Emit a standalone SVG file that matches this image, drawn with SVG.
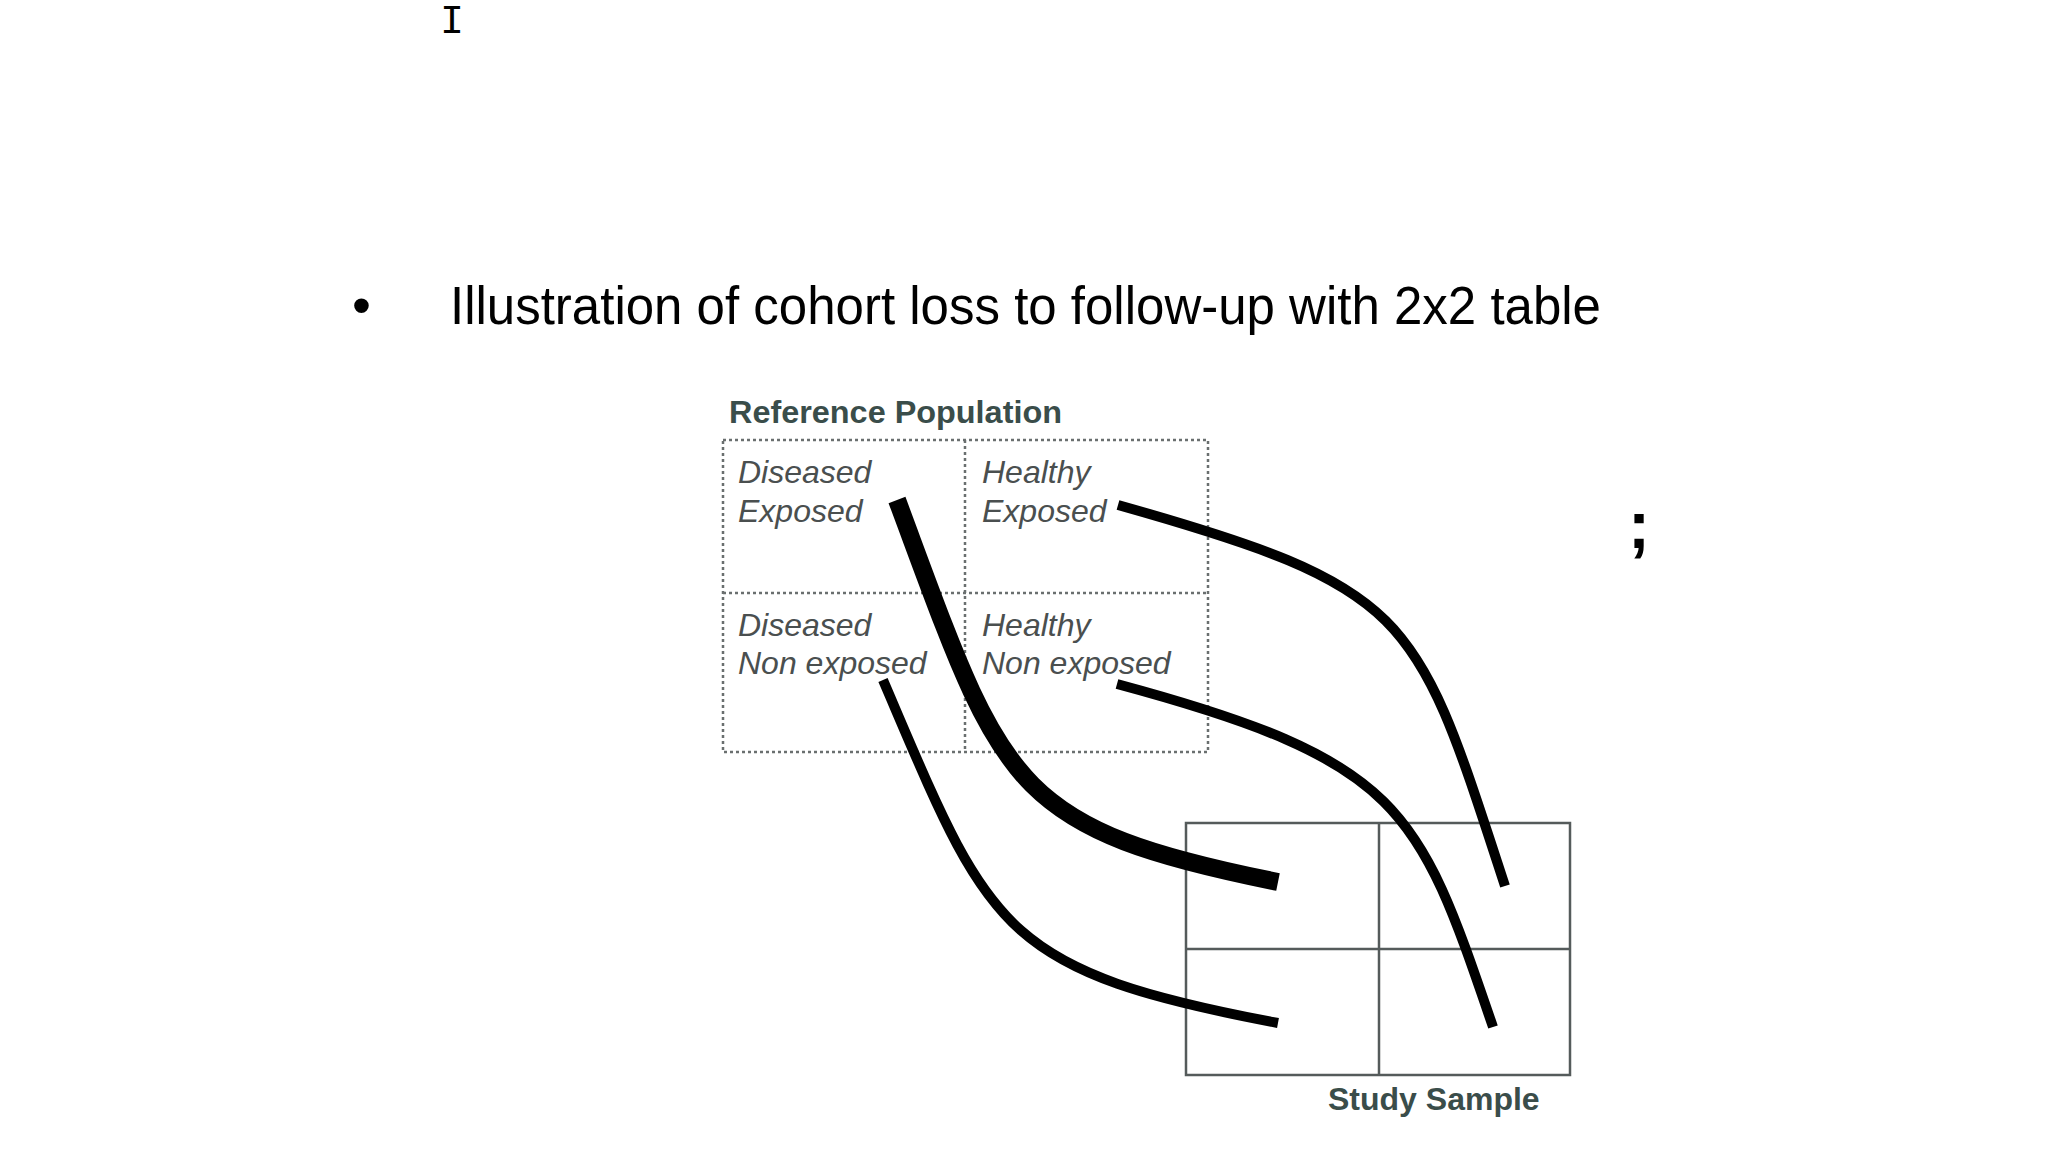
<svg xmlns="http://www.w3.org/2000/svg" width="2048" height="1152" viewBox="0 0 2048 1152">
<style>
.bul{font-family:"Liberation Sans",Arial,sans-serif;font-size:54px;fill:#000}
.hd{font-family:"Liberation Sans",Arial,sans-serif;font-weight:bold;font-size:32px;fill:#3a4d4a}
.cell{font-family:"Liberation Sans",Arial,sans-serif;font-style:italic;font-size:32px;fill:#4a4f4f}
.dot{fill:none;stroke:#6a6f6f;stroke-width:2.5;stroke-dasharray:3 3}
.grid{fill:none;stroke:#555b5b;stroke-width:2.5}
.ln{fill:none;stroke:#000;stroke-linecap:butt}
</style>
<rect width="2048" height="1152" fill="#fff"/>
<text x="440" y="33" style="font-family:'Liberation Mono',monospace;font-size:40px" fill="#000">I</text>
<text x="1628" y="548" style="font-family:'Liberation Sans',Arial,sans-serif;font-weight:bold;font-size:66px" fill="#000">;</text>
<g id="title">
<text class="bul" x="352" y="324">•</text>
<text class="bul" x="450" y="324" textLength="1151" lengthAdjust="spacingAndGlyphs">Illustration of cohort loss to follow-up with 2x2 table</text>
</g>
<g id="reference-population">
<text class="hd" x="729" y="423" textLength="333" lengthAdjust="spacingAndGlyphs">Reference Population</text>
<rect class="dot" x="723" y="440" width="485" height="312"/>
<line class="dot" x1="965" y1="440" x2="965" y2="752"/>
<line class="dot" x1="723" y1="593" x2="1208" y2="593"/>
</g>
<g id="cell-de"><text class="cell" x="738" y="483">Diseased</text><text class="cell" x="738" y="522">Exposed</text></g>
<g id="cell-he"><text class="cell" x="982" y="483">Healthy</text><text class="cell" x="982" y="522">Exposed</text></g>
<g id="cell-dn"><text class="cell" x="738" y="636">Diseased</text><text class="cell" x="738" y="674">Non exposed</text></g>
<g id="cell-hn"><text class="cell" x="982" y="636">Healthy</text><text class="cell" x="982" y="674">Non exposed</text></g>
<g id="study-sample">
<rect class="grid" x="1186" y="823" width="384" height="252"/>
<line class="grid" x1="1379" y1="823" x2="1379" y2="1075"/>
<line class="grid" x1="1186" y1="949" x2="1570" y2="949"/>
<text class="hd" x="1328" y="1110">Study Sample</text>
</g>
<g id="connectors">
<path class="ln" stroke-width="18" d="M897,500 C1002.7,783.8 1005.6,827.5 1278,882"/>
<path class="ln" stroke-width="10" d="M883,680 C989.7,928.9 996.7,970.1 1278,1023"/>
<path class="ln" stroke-width="10" d="M1118,505 C1416,589 1416,614 1505,886"/>
<path class="ln" stroke-width="10" d="M1117,684 C1405,761.5 1418.5,809.4 1493,1027"/>
</g>
</svg>
